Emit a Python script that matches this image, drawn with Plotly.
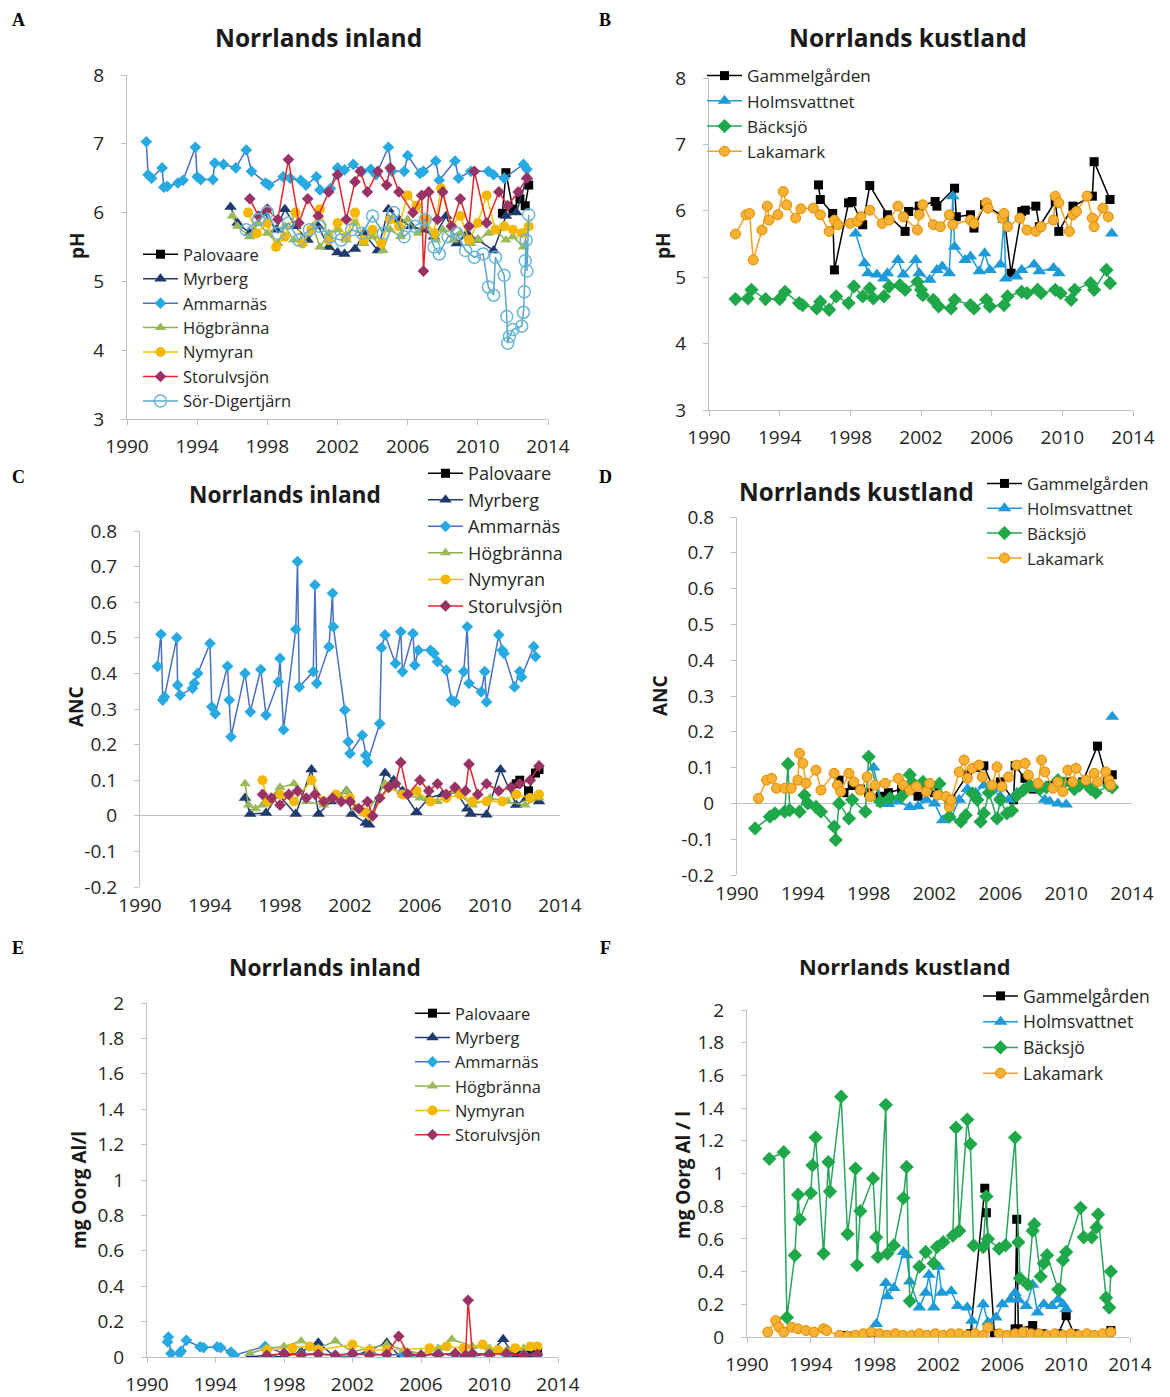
import plotly.graph_objects as go

# ---------------- DATA ----------------
XTICKS = [1990, 1994, 1998, 2002, 2006, 2010, 2014]
PH_TICKS = [3, 4, 5, 6, 7, 8]
ANC_TICKS = [-0.2, -0.1, 0, 0.1, 0.2, 0.3, 0.4, 0.5, 0.6, 0.7, 0.8]
ANC_LABELS = ["-0.2", "-0.1", "0", "0.1", "0.2", "0.3", "0.4", "0.5", "0.6", "0.7", "0.8"]
AL_TICKS = [0, 0.2, 0.4, 0.6, 0.8, 1, 1.2, 1.4, 1.6, 1.8, 2]
AL_LABELS = ["0", "0.2", "0.4", "0.6", "0.8", "1", "1.2", "1.4", "1.6", "1.8", "2"]

# Panel A: pH, Norrlands inland
A_palovaare_yr = [2011.4, 2011.6, 2012.0, 2012.4, 2012.7, 2012.9]
A_palovaare_ph = [5.99, 6.58, 6.05, 6.2, 6.1, 6.4]
A_myrberg_yr = [1995.9, 1996.3, 1997.0, 1997.8, 1998.5, 1999.0, 1999.6, 2000.3, 2000.9, 2001.5, 2002.0, 2002.4, 2003.0, 2003.5,
                2004.3, 2004.9, 2005.5, 2006.2, 2006.9, 2007.5, 2008.2, 2008.8, 2009.4, 2010.0, 2010.9, 2011.6, 2012.2, 2012.8]
A_myrberg_ph = [6.08, 5.85, 5.7, 6.0, 5.75, 6.05, 5.8, 5.6, 5.8, 5.5, 5.42, 5.4, 5.47, 5.7,
                5.45, 6.05, 5.9, 5.8, 5.75, 5.65, 5.95, 5.55, 5.7, 5.6, 5.45, 5.95, 6.0, 6.52]
A_ammarnas_yr = [1991.1, 1991.2, 1991.4, 1992.0, 1992.1, 1992.3, 1992.9, 1993.2, 1993.9, 1994.0,
                 1994.2, 1994.9, 1995.0, 1995.5, 1996.2, 1996.8, 1997.1, 1997.9, 1998.1, 1998.9,
                 1999.3, 1999.9, 2000.2, 2000.8, 2001.0, 2001.6, 2002.0, 2002.4, 2002.9, 2003.4,
                 2003.9, 2004.2, 2004.9, 2005.1, 2005.8, 2006.0, 2006.7, 2006.9, 2007.6, 2007.8,
                 2008.7, 2008.9, 2009.6, 2010.6, 2010.9, 2011.5, 2012.6, 2012.8]
A_ammarnas_ph = [7.03, 6.55, 6.5, 6.65, 6.37, 6.38, 6.43, 6.47, 6.95, 6.52,
                 6.48, 6.48, 6.72, 6.70, 6.65, 6.91, 6.6, 6.43, 6.4, 6.52,
                 6.5, 6.47, 6.4, 6.52, 6.33, 6.35, 6.65, 6.62, 6.7, 6.6,
                 6.63, 6.55, 6.95, 6.6, 6.6, 6.83, 6.57, 6.6, 6.75, 6.47,
                 6.75, 6.5, 6.6, 6.6, 6.55, 6.5, 6.7, 6.63]
A_hogbranna_yr = [1996.0, 1996.3, 1997.0, 1997.5, 1998.0, 1998.6, 1999.0, 1999.5, 2000.0, 2000.6,
                  2001.0, 2001.5, 2002.0, 2002.5, 2003.0, 2003.5, 2004.0, 2004.6, 2005.0, 2005.6,
                  2006.0, 2006.6, 2007.0, 2007.6, 2008.0, 2008.6, 2009.0, 2009.6, 2010.0, 2010.6,
                  2011.0, 2011.6, 2012.0, 2012.6, 2012.9]
A_hogbranna_ph = [5.95, 5.8, 5.65, 5.85, 5.7, 5.55, 5.8, 5.6, 5.55, 5.8,
                  5.5, 5.7, 5.75, 5.6, 5.85, 5.55, 5.65, 5.45, 5.75, 5.65,
                  5.9, 5.7, 5.8, 5.6, 5.75, 5.6, 5.7, 5.55, 5.6, 5.7,
                  5.75, 5.6, 5.65, 5.5, 5.8]
A_nymyran_yr = [1996.9, 1997.4, 1998.0, 1998.5, 1999.0, 1999.6, 2000.0, 2000.5, 2001.0, 2001.5,
                2002.0, 2002.5, 2003.0, 2003.5, 2004.0, 2004.5, 2005.0, 2005.5, 2006.0, 2006.5,
                2007.0, 2007.5, 2007.9, 2008.5, 2009.0, 2009.5, 2010.0, 2010.5, 2011.0, 2011.5,
                2012.0, 2012.5, 2012.9]
A_nymyran_ph = [6.0, 5.7, 5.85, 5.5, 5.65, 6.0, 5.55, 5.75, 6.05, 5.6,
                5.85, 5.65, 6.0, 5.6, 5.75, 5.55, 5.9, 5.8, 6.25, 6.1,
                5.9, 5.7, 6.35, 5.8, 5.95, 5.6, 5.85, 6.25, 5.75, 5.8,
                5.75, 5.7, 5.8]
A_storulv_yr = [1997.0, 1997.5, 1998.0, 1998.6, 1999.2, 1999.8, 2000.3, 2000.9, 2001.5, 2002.0,
                2002.5, 2003.0, 2003.3, 2003.7, 2004.3, 2004.8, 2005.0, 2005.5, 2006.3, 2006.8,
                2006.9, 2007.2, 2007.7, 2008.0, 2008.5, 2009.0, 2009.5, 2009.8, 2010.5, 2011.2,
                2011.7, 2012.3, 2012.8]
A_storulv_ph = [6.2, 5.95, 6.05, 5.9, 6.77, 5.85, 6.2, 5.95, 6.3, 6.55,
                5.9, 6.45, 6.6, 6.3, 6.6, 6.4, 6.65, 6.3, 6.0, 6.25,
                5.15, 6.3, 5.9, 6.3, 5.8, 6.2, 5.8, 6.6, 5.85, 6.3,
                6.1, 6.3, 6.5]
A_sordig_yr = [1996.8, 1997.5, 1998.0, 1998.6, 1999.2, 1999.8, 2000.4, 2001.0, 2001.6, 2002.2,
               2002.8, 2003.4, 2004.0, 2004.6, 2005.2, 2005.8, 2006.4, 2007.0, 2007.5, 2007.8,
               2008.3, 2008.8, 2009.3, 2009.8, 2010.3, 2010.6, 2010.9, 2011.0, 2011.5, 2011.65,
               2011.7, 2011.8, 2012.0, 2012.5, 2012.6, 2012.65, 2012.7, 2012.75, 2012.8, 2012.9]
A_sordig_ph = [5.75, 5.9, 6.0, 5.7, 5.85, 5.6, 5.75, 5.8, 5.65, 5.6,
               5.75, 5.7, 5.95, 5.7, 6.0, 5.65, 5.8, 5.9, 5.5, 5.4,
               5.65, 5.7, 5.45, 5.35, 5.4, 4.92, 4.8, 5.35, 5.09, 4.49,
               4.1, 4.2, 4.3, 4.35, 4.55, 4.85, 5.3, 5.6, 5.15, 5.97]

# Panel B: pH, Norrlands kustland
B_gammel_yr = [1996.2, 1996.3, 1997.0, 1997.1, 1997.9, 1998.1, 1998.7, 1999.1, 2000.1, 2001.1,
               2001.3, 2001.9, 2002.8, 2002.9, 2003.9, 2004.0, 2004.8, 2005.0, 2005.6, 2006.7,
               2007.1, 2007.7, 2007.9, 2008.5, 2008.7, 2009.6, 2009.8, 2010.6, 2011.7, 2011.8, 2012.7]
B_gammel_ph = [6.39, 6.17, 5.96, 5.11, 6.12, 6.14, 5.79, 6.38, 5.94, 5.69,
               5.99, 6.07, 6.14, 6.07, 6.34, 5.91, 5.94, 5.74, 6.09, 5.91,
               5.06, 5.99, 6.01, 6.07, 5.76, 6.14, 5.69, 6.07, 6.22, 6.74, 6.17]
B_holms_yr = [1998.3, 1998.8, 1999.0, 1999.5, 1999.9, 2000.1, 2000.7, 2001.0, 2001.7, 2001.9,
              2002.5, 2002.9, 2003.2, 2003.6, 2003.8, 2003.9, 2004.5, 2004.8, 2005.3, 2005.6,
              2005.9, 2006.5, 2006.7, 2006.8, 2007.4, 2007.7, 2008.4, 2008.7, 2009.5, 2009.8,
              2011.0, 2012.8]
B_holms_ph = [5.66, 5.21, 5.06, 5.04, 4.98, 5.06, 5.26, 5.04, 5.26, 5.06,
              4.96, 5.11, 5.16, 5.06, 6.22, 5.46, 5.26, 5.31, 5.09, 5.36,
              5.11, 5.19, 5.86, 4.98, 5.01, 5.11, 5.19, 5.09, 5.14, 5.06,
              None, 5.66]
B_backsjo_yr = [1991.5, 1992.2, 1992.4, 1993.2, 1994.0, 1994.3, 1995.1, 1995.3, 1996.1, 1996.3,
                1996.8, 1997.2, 1997.9, 1998.2, 1998.7, 1999.1, 1999.3, 1999.9, 2000.2, 2000.8,
                2001.1, 2001.8, 2002.0, 2002.1, 2002.7, 2003.0, 2003.7, 2003.9, 2004.8, 2005.0,
                2005.7, 2005.9, 2006.7, 2006.9, 2007.7, 2008.0, 2008.6, 2008.8, 2009.6, 2009.9,
                2010.5, 2010.7, 2011.6, 2011.8, 2012.5, 2012.7]
B_backsjo_ph = [4.67, 4.68, 4.81, 4.67, 4.67, 4.78, 4.61, 4.58, 4.53, 4.63,
                4.51, 4.71, 4.61, 4.86, 4.71, 4.83, 4.68, 4.71, 4.86, 4.88,
                4.81, 4.93, 4.81, 4.73, 4.66, 4.56, 4.53, 4.66, 4.58, 4.53,
                4.66, 4.56, 4.58, 4.71, 4.78, 4.76, 4.81, 4.76, 4.81, 4.76,
                4.66, 4.81, 4.91, 4.81, 5.11, 4.91]
B_lakamark_yr = [1991.5, 1992.1, 1992.3, 1992.5, 1993.0, 1993.3, 1993.4, 1993.9, 1994.2, 1994.4,
                 1994.9, 1995.2, 1995.9, 1996.3, 1996.8, 1997.1, 1997.3, 1998.0, 1998.4, 1998.6,
                 1999.1, 1999.8, 2000.2, 2000.7, 2001.0, 2001.8, 2001.9, 2002.1, 2002.7, 2003.1,
                 2003.6, 2003.8, 2004.8, 2005.0, 2005.7, 2005.8, 2006.6, 2006.7, 2006.9, 2007.6,
                 2008.0, 2008.5, 2008.8, 2009.5, 2009.6, 2009.8, 2010.4, 2010.6, 2010.8, 2011.4,
                 2011.7, 2011.8, 2012.3, 2012.6]
B_lakamark_ph = [5.65, 5.94, 5.96, 5.26, 5.71, 6.07, 5.86, 5.94, 6.29, 6.09,
                 5.89, 6.03, 6.04, 5.94, 5.69, 5.86, 5.79, 5.81, 5.84, 5.91,
                 6.01, 5.81, 5.86, 6.07, 5.91, 5.71, 5.94, 6.09, 5.79, 5.76,
                 5.94, 5.79, 5.86, 5.81, 6.12, 6.04, 5.89, 5.96, 5.76, 5.89,
                 5.71, 5.69, 5.76, 5.86, 6.22, 6.12, 5.69, 5.94, 5.99, 6.22,
                 5.89, 5.76, 6.04, 5.91]

# Panel C: ANC, Norrlands inland
C_palovaare_yr = [2011.5, 2011.7, 2012.2, 2012.6, 2012.8]
C_palovaare_anc = [0.09, 0.1, 0.07, 0.12, 0.13]
C_myrberg_yr = [1996.0, 1996.3, 1997.2, 1997.9, 1998.9, 1999.8, 2000.2, 2000.9, 2001.8, 2002.1,
                2002.9, 2003.1, 2004.0, 2004.5, 2005.0, 2005.8, 2006.5, 2007.3, 2008.0, 2008.7,
                2008.9, 2009.8, 2010.6, 2011.5, 2012.1, 2012.8]
C_myrberg_anc = [0.05, 0.005, 0.008, 0.06, 0.005, 0.13, 0.005, 0.04, 0.07, 0.005,
                 -0.02, -0.025, 0.12, 0.1, 0.07, 0.01, 0.05, 0.06, 0.07, 0.02,
                 0.005, 0.003, 0.13, 0.03, 0.05, 0.04]
C_ammarnas_yr = [1991.0, 1991.2, 1991.3, 1991.4, 1992.1, 1992.15, 1992.3, 1993.0, 1993.1, 1993.3,
                 1994.0, 1994.1, 1994.3, 1995.0, 1995.1, 1995.2, 1996.0, 1996.3, 1996.9, 1997.2,
                 1997.9, 1998.0, 1998.2, 1998.9, 1999.0, 1999.1, 1999.9, 2000.0, 2000.1, 2000.8,
                 2001.0, 2001.05, 2001.7, 2001.9, 2002.0, 2002.7, 2002.9, 2003.0, 2003.7, 2003.8,
                 2004.0, 2004.6, 2004.9, 2005.0, 2005.6, 2005.7, 2005.9, 2006.6, 2006.8, 2007.0,
                 2007.5, 2007.8, 2008.0, 2008.5, 2008.7, 2008.8, 2009.5, 2009.7, 2009.8, 2010.5,
                 2010.7, 2010.8, 2011.4, 2011.7, 2011.8, 2012.5, 2012.6]
C_ammarnas_anc = [0.42, 0.51, 0.325, 0.334, 0.50, 0.367, 0.339, 0.358, 0.372, 0.40,
                  0.484, 0.306, 0.287, 0.42, 0.325, 0.222, 0.40, 0.292, 0.411, 0.283,
                  0.376, 0.442, 0.242, 0.524, 0.714, 0.362, 0.405, 0.648, 0.372, 0.475,
                  0.625, 0.531, 0.297, 0.208, 0.175, 0.226, 0.17, 0.151, 0.259, 0.472,
                  0.508, 0.428, 0.517, 0.405, 0.512, 0.423, 0.465, 0.465, 0.456, 0.433,
                  0.409, 0.325, 0.32, 0.405, 0.531, 0.372, 0.348, 0.405, 0.32, 0.508,
                  0.465, 0.456, 0.362, 0.405, 0.39, 0.475, 0.447]
C_hogbranna_yr = [1996.0, 1996.2, 1996.6, 1997.0, 1998.0, 1998.8, 1999.5, 2000.5, 2001.2, 2001.8,
                  2002.3, 2003.0, 2004.0, 2005.0, 2006.0, 2007.0, 2008.0, 2009.0, 2010.0, 2011.0,
                  2012.0, 2012.8]
C_hogbranna_anc = [0.09, 0.03, 0.02, 0.03, 0.08, 0.09, 0.04, 0.03, 0.05, 0.07,
                   0.02, 0.01, 0.09, 0.06, 0.05, 0.04, 0.07, 0.03, 0.05, 0.04,
                   0.03, 0.05]
C_nymyran_yr = [1997.0, 1997.3, 1998.0, 1998.8, 1999.8, 2000.5, 2001.2, 2002.0, 2002.8, 2003.2,
                2004.2, 2005.0, 2005.8, 2006.6, 2007.5, 2008.3, 2009.0, 2009.8, 2010.7, 2011.5,
                2012.3, 2012.8]
C_nymyran_anc = [0.1, 0.04, 0.06, 0.04, 0.1, 0.04, 0.06, 0.05, 0.01, 0.0,
                 0.08, 0.06, 0.07, 0.04, 0.05, 0.06, 0.04, 0.04, 0.04, 0.06,
                 0.05, 0.06]
C_storulv_yr = [1997.0, 1997.5, 1998.0, 1998.5, 1999.0, 1999.5, 2000.0, 2000.5, 2001.0, 2001.5,
                2002.0, 2002.5, 2003.0, 2003.3, 2003.7, 2004.2, 2004.6, 2004.9, 2005.3, 2006.0,
                2006.5, 2007.0, 2007.5, 2008.0, 2008.6, 2008.8, 2009.3, 2009.8, 2010.5, 2011.2,
                2011.7, 2012.3, 2012.8]
C_storulv_anc = [0.06, 0.05, 0.03, 0.06, 0.07, 0.05, 0.06, 0.04, 0.05, 0.04,
                 0.04, 0.02, 0.04, 0.0, 0.05, 0.08, 0.09, 0.15, 0.06, 0.1,
                 0.07, 0.09, 0.06, 0.08, 0.07, 0.145, 0.06, 0.09, 0.07, 0.08,
                 0.09, 0.1, 0.14]

# Panel D: ANC, Norrlands kustland
D_gammel_yr = [1996.2, 1996.5, 1997.0, 1997.5, 1998.0, 1998.7, 1999.2, 2000.0, 2001.0, 2002.0,
               2003.0, 2004.0, 2004.5, 2005.0, 2005.5, 2006.0, 2006.8, 2006.9, 2007.5, 2008.0,
               2009.0, 2010.0, 2011.0, 2011.9, 2012.5, 2012.8]
D_gammel_anc = [0.065, 0.03, 0.05, 0.04, 0.03, 0.02, 0.03, 0.04, 0.02, 0.03,
                0.01, 0.08, 0.1, 0.105, 0.05, 0.06, 0.01, 0.105, 0.07, 0.04,
                0.05, 0.06, 0.06, 0.16, 0.06, 0.08]
D_holms_yr = [1998.3, 1998.8, 1999.2, 1999.8, 2000.5, 2001.0, 2001.5, 2002.0, 2002.5, 2003.0,
              2003.5, 2004.0, 2004.5, 2005.0, 2005.5, 2006.0, 2006.5, 2007.0, 2007.5, 2008.0,
              2008.7, 2009.0, 2009.5, 2010.0, 2011.0, 2012.8]
D_holms_anc = [0.1, 0.0, -0.002, 0.005, -0.01, -0.008, 0.01, 0.0, -0.047, -0.04,
               0.01, 0.04, 0.03, 0.05, 0.04, 0.02, 0.01, 0.03, 0.04, 0.04,
               0.01, 0.005, 0.0, -0.003, None, 0.242]
D_backsjo_yr = [1991.1, 1992.0, 1992.3, 1992.9, 1993.1, 1993.2, 1993.8, 1994.1, 1994.3, 1994.8,
                1995.1, 1995.9, 1996.0, 1996.2, 1996.8, 1997.0, 1997.8, 1998.0, 1998.7, 1999.3,
                2000.0, 2000.5, 2000.7, 2001.3, 2001.8, 2002.3, 2002.9, 2003.6, 2003.9, 2004.3,
                2004.6, 2004.8, 2005.0, 2005.3, 2005.8, 2006.0, 2006.4, 2006.7, 2007.0, 2007.4,
                2007.8, 2008.4, 2008.8, 2009.5, 2009.8, 2010.5, 2010.8, 2011.5, 2011.8, 2012.6, 2012.8]
D_backsjo_anc = [-0.07, -0.037, -0.028, -0.023, 0.11, -0.019, -0.023, 0.023, 0.0, -0.01,
                 -0.023, -0.065, -0.102, 0.0, -0.042, 0.01, -0.023, 0.13, 0.005, 0.015,
                 0.02, 0.08, 0.056, 0.06, 0.05, 0.055, -0.037, -0.051, -0.033, 0.028,
                 0.01, -0.051, -0.028, 0.03, -0.042, 0.01, -0.028, -0.02, 0.022, 0.037,
                 0.05, 0.04, 0.045, 0.065, 0.056, 0.04, 0.05, 0.04, 0.03, 0.05, 0.045]
D_lakamark_yr = [1991.3, 1991.8, 1992.1, 1992.4, 1992.9, 1993.3, 1993.7, 1993.8, 1994.0, 1994.2,
                 1994.8, 1995.1, 1995.9, 1996.1, 1996.3, 1996.8, 1997.1, 1997.5, 1997.9, 1998.1,
                 1998.4, 1999.0, 1999.8, 2000.1, 2000.5, 2000.9, 2001.5, 2001.7, 2002.2, 2002.7,
                 2002.9, 2003.0, 2003.5, 2003.8, 2004.0, 2004.3, 2004.7, 2004.9, 2005.5, 2005.8,
                 2006.1, 2006.5, 2007.0, 2007.5, 2007.7, 2008.3, 2008.5, 2008.7, 2009.2, 2009.5,
                 2009.8, 2010.1, 2010.4, 2010.6, 2011.2, 2011.7, 2011.9, 2012.4, 2012.6, 2012.7]
D_lakamark_anc = [0.014, 0.065, 0.07, 0.042, 0.042, 0.042, 0.065, 0.14, 0.112, 0.056,
                  0.093, 0.037, 0.084, 0.051, 0.033, 0.084, 0.06, 0.037, 0.074, 0.019,
                  0.051, 0.056, 0.07, 0.051, 0.037, 0.047, 0.033, 0.056, 0.023, 0.019,
                  -0.01, 0.009, 0.088, 0.121, 0.07, 0.098, 0.107, 0.074, 0.051, 0.102,
                  0.047, 0.074, 0.107, 0.112, 0.079, 0.056, 0.121, 0.088, 0.042, 0.06,
                  0.033, 0.093, 0.06, 0.098, 0.065, 0.084, 0.06, 0.088, 0.065, 0.051]

# Panel E: organic Al, Norrlands inland
E_palovaare_yr = [2011.5, 2012.0, 2012.5, 2012.8]
E_palovaare_al = [0.02, 0.01, 0.03, 0.02]
E_myrberg_yr = [1996.0, 1997.0, 1998.0, 1999.0, 2000.0, 2001.0, 2002.0, 2003.0, 2004.0, 2004.8,
                2006.0, 2007.0, 2008.7, 2010.0, 2010.8, 2011.5, 2012.5]
E_myrberg_al = [0.0, 0.01, 0.0, 0.03, 0.08, 0.0, 0.0, 0.04, 0.08, 0.0,
                0.01, 0.02, 0.0, 0.02, 0.1, 0.0, 0.01]
E_ammarnas_yr = [1991.2, 1991.25, 1991.4, 1991.9, 1992.0, 1992.3, 1993.1, 1993.3, 1994.1, 1994.3,
                 1994.9, 1995.1, 1996.9, 1998.0, 1999.0, 2000.0, 2001.0, 2002.0, 2003.0, 2004.0,
                 2005.0, 2006.0, 2007.0, 2008.0, 2009.0, 2010.0, 2011.0, 2012.0, 2012.8]
E_ammarnas_al = [0.085, 0.113, 0.02, 0.02, 0.034, 0.094, 0.057, 0.053, 0.057, 0.053,
                 0.028, 0.01, 0.06, 0.02, 0.015, 0.02, 0.01, 0.015, 0.02, 0.01,
                 0.015, 0.01, 0.02, 0.01, 0.015, 0.02, 0.01, 0.015, 0.01]
E_hogbranna_yr = [1996.0, 1997.0, 1998.0, 1999.0, 2000.0, 2001.0, 2002.0, 2003.0, 2004.0, 2005.0,
                  2006.0, 2007.0, 2007.8, 2009.0, 2010.0, 2011.0, 2012.0, 2012.8]
E_hogbranna_al = [0.02, 0.05, 0.06, 0.09, 0.05, 0.09, 0.03, 0.05, 0.07, 0.04,
                  0.02, 0.05, 0.1, 0.06, 0.05, 0.04, 0.05, 0.06]
E_nymyran_yr = [1997.0, 1998.5, 1999.5, 2000.0, 2002.0, 2003.0, 2004.0, 2006.5, 2007.5, 2008.5,
                2009.6, 2010.5, 2011.5, 2012.4, 2012.8]
E_nymyran_al = [0.04, 0.05, 0.06, 0.04, 0.07, 0.04, 0.04, 0.05, 0.06, 0.05,
                0.07, 0.04, 0.05, 0.06, 0.06]
E_storulv_yr = [1997.0, 1998.0, 1999.0, 2000.0, 2001.0, 2002.0, 2003.0, 2004.0, 2004.7, 2005.2,
                2006.0, 2007.0, 2008.0, 2008.6, 2008.75, 2009.0, 2010.0, 2011.0, 2012.0, 2012.8]
E_storulv_al = [0.01, 0.02, 0.01, 0.015, 0.01, 0.02, 0.01, 0.015, 0.117, 0.02,
                0.01, 0.015, 0.02, 0.01, 0.32, 0.02, 0.015, 0.02, 0.01, 0.015]

# Panel F: organic Al, Norrlands kustland
F_gammel_yr = [1996.0, 1996.5, 1997.0, 1997.5, 1998.0, 1998.8, 1999.5, 2000.0, 2001.0, 2002.0,
               2003.0, 2004.0, 2004.9, 2005.0, 2005.5, 2006.2, 2006.8, 2006.9, 2007.0, 2007.9,
               2008.5, 2009.5, 2010.0, 2010.5, 2011.5, 2012.8]
F_gammel_al = [0.01, 0.005, 0.01, 0.0, 0.02, 0.01, 0.01, 0.0, 0.01, 0.0,
               0.01, 0.02, 0.91, 0.76, 0.02, 0.01, 0.05, 0.72, 0.05, 0.07,
               0.02, 0.02, 0.13, 0.02, 0.01, 0.04]
F_holms_yr = [1998.1, 1998.7, 1998.8, 1999.2, 1999.8, 2000.0, 2000.2, 2000.8, 2001.2, 2001.4,
              2001.7, 2002.0, 2002.2, 2002.8, 2003.2, 2003.8, 2004.1, 2004.2, 2004.8, 2005.1,
              2005.6, 2006.0, 2006.5, 2006.8, 2007.0, 2007.5, 2007.9, 2008.2, 2008.6, 2009.1,
              2009.5, 2009.8, 2010.0, 2011.0, 2012.8]
F_holms_al = [0.08, 0.33, 0.25, 0.3, 0.52, 0.5, 0.34, 0.18, 0.27, 0.38,
              0.18, 0.43, 0.27, 0.28, 0.19, 0.18, 0.1, 0.0, 0.2, 0.09,
              0.12, 0.2, 0.23, 0.27, 0.23, 0.19, 0.32, 0.15, 0.2, 0.19,
              0.23, 0.2, 0.17, None, -0.01]
F_backsjo_yr = [1991.4, 1992.3, 1992.5, 1993.0, 1993.2, 1993.3, 1994.0, 1994.1, 1994.3, 1994.8,
                1995.1, 1995.2, 1995.9, 1996.3, 1996.8, 1996.9, 1997.1, 1997.9, 1998.1, 1998.2,
                1998.7, 1998.8, 1999.2, 1999.8, 2000.0, 2000.2, 2000.8, 2001.2, 2001.7, 2001.9,
                2002.3, 2002.9, 2003.1, 2003.3, 2003.8, 2004.0, 2004.2, 2004.8, 2005.0, 2005.1,
                2005.8, 2006.2, 2006.8, 2007.0, 2007.1, 2007.6, 2007.9, 2008.0, 2008.4, 2008.6,
                2008.8, 2009.5, 2009.6, 2009.8, 2010.0, 2010.9, 2011.1, 2011.6, 2011.9, 2012.0,
                2012.5, 2012.7, 2012.8]
F_backsjo_al = [1.09, 1.13, 0.12, 0.5, 0.87, 0.72, 0.88, 1.05, 1.22, 0.51,
                1.07, 0.89, 1.47, 0.63, 1.03, 0.44, 0.77, 0.97, 0.61, 0.49,
                1.42, 0.51, 0.56, 0.85, 1.04, 0.22, 0.43, 0.52, 0.45, 0.55,
                0.58, 0.62, 1.28, 0.65, 1.33, 1.18, 0.56, 0.55, 0.86, 0.6,
                0.54, 0.56, 1.22, 0.58, 0.36, 0.32, 0.65, 0.69, 0.37, 0.45,
                0.5, 0.29, 0.29, 0.47, 0.52, 0.79, 0.61, 0.61, 0.67, 0.75,
                0.24, 0.18, 0.4]
F_lakamark_yr = [1991.3, 1991.8, 1992.0, 1992.3, 1992.8, 1993.2, 1993.7, 1994.2, 1994.8, 1995.0,
                 1995.8, 1996.3, 1996.8, 1997.3, 1997.8, 1998.3, 1998.8, 1999.3, 1999.8, 2000.3,
                 2000.8, 2001.3, 2001.8, 2002.3, 2002.8, 2003.3, 2003.8, 2004.3, 2004.8, 2005.1,
                 2005.8, 2006.3, 2006.8, 2007.3, 2007.8, 2008.3, 2008.8, 2009.3, 2009.8, 2010.3,
                 2010.8, 2011.3, 2011.8, 2012.3, 2012.8]
F_lakamark_al = [0.03, 0.1, 0.06, 0.03, 0.06, 0.05, 0.04, 0.03, 0.05, 0.04,
                 0.01, 0.005, 0.01, 0.02, 0.03, 0.02, 0.01, 0.02, 0.01, 0.01,
                 0.02, 0.01, 0.02, 0.01, 0.02, 0.02, 0.01, 0.02, 0.01, 0.06,
                 0.02, 0.01, 0.02, 0.03, 0.02, 0.02, 0.01, 0.02, 0.01, 0.02,
                 0.01, 0.02, 0.01, 0.02, 0.03]

# ---------------- STYLES ----------------
FONT = "'Open Sans', Lato, sans-serif"
TXT = "#262626"
AXC = "#bfbfbf"
W, H = 1170, 1397

STYLE = {
    "Palovaare":      dict(lc="#000000", mc="#000000", sym="square", sz=9, ml=None),
    "Gammelgården":   dict(lc="#000000", mc="#000000", sym="square", sz=9, ml=None),
    "Myrberg":        dict(lc="#1f3a6e", mc="#1f3a6e", sym="triangle-up", sz=11, ml=None),
    "Ammarnäs":       dict(lc="#4a6fc0", mc="#27a9e1", sym="diamond", sz=9, ml=None),
    "Högbränna":      dict(lc="#8fae4f", mc="#9bbb59", sym="triangle-up", sz=10, ml=None),
    "Nymyran":        dict(lc="#f0c000", mc="#f5b700", sym="circle", sz=10, ml=None),
    "Storulvsjön":    dict(lc="#e3262b", mc="#993366", sym="diamond", sz=9, ml=None),
    "Sör-Digertjärn": dict(lc="#5aa6c8", mc="#6bb5d5", sym="circle-open", sz=12, ml=None),
    "Holmsvattnet":   dict(lc="#1e9ad9", mc="#1e9ad9", sym="triangle-up", sz=12, ml=None),
    "Bäcksjö":        dict(lc="#28a55a", mc="#1fa84a", sym="diamond", sz=11, ml=None),
    "Lakamark":       dict(lc="#f5a020", mc="#f7b233", sym="circle", sz=10, ml="#e08a00"),
}


def px2x(px):
    return px / W


def py2y(py):
    return 1 - py / H


# panel geometry (pixels): x0, x1, ytop, ybottom
PANELS = {
    1: dict(x=(127, 548), y=(75, 419), rng=[3, 8], ticks=PH_TICKS, labels=[str(t) for t in PH_TICKS], zero=False),
    2: dict(x=(709, 1133), y=(78, 410), rng=[3, 8], ticks=PH_TICKS, labels=[str(t) for t in PH_TICKS], zero=False),
    3: dict(x=(140, 560), y=(531, 887), rng=[-0.2, 0.8], ticks=ANC_TICKS, labels=ANC_LABELS, zero=True),
    4: dict(x=(737, 1132), y=(517, 875), rng=[-0.2, 0.8], ticks=ANC_TICKS, labels=ANC_LABELS, zero=True),
    5: dict(x=(147, 558), y=(1003, 1357), rng=[0, 2], ticks=AL_TICKS, labels=AL_LABELS, zero=False),
    6: dict(x=(747, 1130), y=(1010, 1337), rng=[0, 2], ticks=AL_TICKS, labels=AL_LABELS, zero=False),
}

SERIES = {
    1: [("Palovaare", A_palovaare_yr, A_palovaare_ph), ("Myrberg", A_myrberg_yr, A_myrberg_ph),
        ("Ammarnäs", A_ammarnas_yr, A_ammarnas_ph), ("Högbränna", A_hogbranna_yr, A_hogbranna_ph),
        ("Nymyran", A_nymyran_yr, A_nymyran_ph), ("Storulvsjön", A_storulv_yr, A_storulv_ph),
        ("Sör-Digertjärn", A_sordig_yr, A_sordig_ph)],
    2: [("Gammelgården", B_gammel_yr, B_gammel_ph), ("Holmsvattnet", B_holms_yr, B_holms_ph),
        ("Bäcksjö", B_backsjo_yr, B_backsjo_ph), ("Lakamark", B_lakamark_yr, B_lakamark_ph)],
    3: [("Palovaare", C_palovaare_yr, C_palovaare_anc), ("Myrberg", C_myrberg_yr, C_myrberg_anc),
        ("Ammarnäs", C_ammarnas_yr, C_ammarnas_anc), ("Högbränna", C_hogbranna_yr, C_hogbranna_anc),
        ("Nymyran", C_nymyran_yr, C_nymyran_anc), ("Storulvsjön", C_storulv_yr, C_storulv_anc)],
    4: [("Gammelgården", D_gammel_yr, D_gammel_anc), ("Holmsvattnet", D_holms_yr, D_holms_anc),
        ("Bäcksjö", D_backsjo_yr, D_backsjo_anc), ("Lakamark", D_lakamark_yr, D_lakamark_anc)],
    5: [("Palovaare", E_palovaare_yr, E_palovaare_al), ("Myrberg", E_myrberg_yr, E_myrberg_al),
        ("Ammarnäs", E_ammarnas_yr, E_ammarnas_al), ("Högbränna", E_hogbranna_yr, E_hogbranna_al),
        ("Nymyran", E_nymyran_yr, E_nymyran_al), ("Storulvsjön", E_storulv_yr, E_storulv_al)],
    6: [("Gammelgården", F_gammel_yr, F_gammel_al), ("Holmsvattnet", F_holms_yr, F_holms_al),
        ("Bäcksjö", F_backsjo_yr, F_backsjo_al), ("Lakamark", F_lakamark_yr, F_lakamark_al)],
}

# legend positions: (left px, top px, font size)
LEGENDS = {1: (138, 237, 16.5), 2: (702, 58, 17.1), 3: (423, 455, 18.1),
           4: (982, 466, 16.8), 5: (410, 996, 16.4), 6: (978, 978, 17.5)}

fig = go.Figure()

for p, series in SERIES.items():
    sfx = "" if p == 1 else str(p)
    leg = "legend" if p == 1 else f"legend{p}"
    for name, xs, ys in series:
        st = STYLE[name]
        marker = dict(color=st["mc"], symbol=st["sym"], size=st["sz"])
        if st["ml"]:
            marker["line"] = dict(color=st["ml"], width=1)
        if st["sym"].endswith("open"):
            marker["line"] = dict(color=st["mc"], width=1.5)
        fig.add_trace(go.Scatter(
            x=xs, y=ys, name=name, mode="lines+markers",
            line=dict(color=st["lc"], width=1.5), marker=marker,
            connectgaps=False, xaxis="x" + sfx, yaxis="y" + sfx, legend=leg,
        ))

layout = dict(width=W, height=H, margin=dict(l=0, r=0, t=0, b=0, pad=0, autoexpand=False),
              paper_bgcolor="white", plot_bgcolor="white",
              font=dict(family=FONT, color=TXT, size=18), showlegend=True)

for p, g in PANELS.items():
    sfx = "" if p == 1 else str(p)
    layout["xaxis" + sfx] = dict(
        domain=[px2x(g["x"][0]), px2x(g["x"][1])], range=[1990, 2014],
        tickvals=XTICKS, ticktext=[str(t) for t in XTICKS],
        showgrid=False, zeroline=False, showline=not g["zero"], linecolor=AXC, linewidth=1,
        ticks="" if g["zero"] else "outside", ticklen=5, tickcolor=AXC,
        tickfont=dict(family=FONT, size=19, color=TXT), ticklabelstandoff=5,
        anchor="y" + sfx, fixedrange=True, automargin=False,
    )
    layout["yaxis" + sfx] = dict(
        domain=[py2y(g["y"][1]), py2y(g["y"][0])], range=g["rng"],
        tickvals=g["ticks"], ticktext=g["labels"],
        showgrid=False, zeroline=g["zero"], zerolinecolor=AXC, zerolinewidth=1,
        showline=True, linecolor=AXC, linewidth=1, ticks="outside", ticklen=5, tickcolor=AXC,
        tickfont=dict(family=FONT, size=19, color=TXT), ticklabelstandoff=13,
        anchor="x" + sfx, fixedrange=True, automargin=False,
    )
    lx, ly, fs = LEGENDS[p]
    key = "legend" if p == 1 else f"legend{p}"
    layout[key] = dict(x=px2x(lx), y=py2y(ly), xanchor="left", yanchor="top",
                       bgcolor="rgba(0,0,0,0)", itemwidth=35, tracegroupgap=0,
                       font=dict(family=FONT, size=fs, color=TXT), itemclick=False)

fig.update_layout(**layout)

# (text, x px, y px, font size)
TITLES = [("Norrlands inland", 318, 38, 24.5), ("Norrlands kustland", 908, 38, 24.5),
          ("Norrlands inland", 285, 494, 22.7), ("Norrlands kustland", 856, 491, 24.2),
          ("Norrlands inland", 325, 967, 22.7), ("Norrlands kustland", 905, 966, 21.8)]
YTITLES = [("pH", 77, 246), ("pH", 663, 246), ("ANC", 76, 707), ("ANC", 660, 696),
           ("mg Oorg Al/l", 79, 1190), ("mg Oorg Al / l", 683, 1175)]
LETTERS = [("A", 18, 20), ("B", 605, 20), ("C", 18, 477), ("D", 605, 477), ("E", 18, 948), ("F", 605, 948)]

for t, x, y, s in TITLES:
    fig.add_annotation(text=f"<b>{t}</b>", x=px2x(x), y=py2y(y), xref="paper", yref="paper",
                       showarrow=False, xanchor="center", yanchor="middle",
                       font=dict(family=FONT, size=s, color="#1a1a1a"))
for t, x, y in YTITLES:
    fig.add_annotation(text=f"<b>{t}</b>", x=px2x(x), y=py2y(y), xref="paper", yref="paper",
                       showarrow=False, xanchor="center", yanchor="middle", textangle=-90,
                       font=dict(family=FONT, size=19, color="#1a1a1a"))
for t, x, y in LETTERS:
    fig.add_annotation(text=f"<b>{t}</b>", x=px2x(x), y=py2y(y), xref="paper", yref="paper",
                       showarrow=False, xanchor="center", yanchor="middle",
                       font=dict(family="'Liberation Serif', serif", size=18, color="#000000"))

fig.write_html("out.html")
